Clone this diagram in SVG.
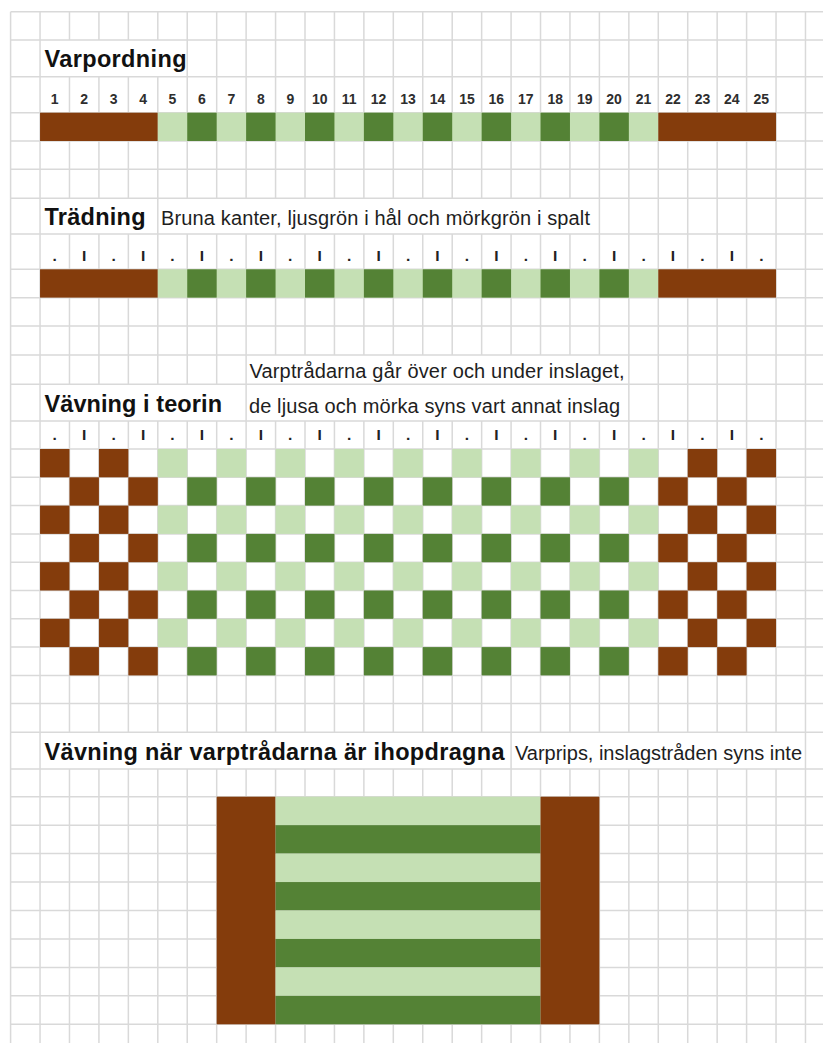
<svg xmlns="http://www.w3.org/2000/svg" xmlns:xlink="http://www.w3.org/1999/xlink" width="823" height="1043" viewBox="0 0 823 1043">
<style>
.grid{fill:none;stroke:#d9d9d9;stroke-width:1.5}
.br{fill:#843c0c}
.dk{fill:#548235}
.lt{fill:#c5e0b4}
.title{font-family:"Liberation Sans",Arial,sans-serif;font-weight:bold;font-size:23.5px;fill:#111}
.note{font-family:"Liberation Sans",Arial,sans-serif;font-size:20px;fill:#1e1e1e}
.num{font-family:"Liberation Sans",Arial,sans-serif;font-weight:bold;font-size:14px;fill:#2e2e2e;text-anchor:middle}
.dot{font-family:"Liberation Sans",Arial,sans-serif;font-weight:bold;font-size:15.5px;fill:#222;text-anchor:middle}
</style>
<defs>
<g id="strip">
<rect class="br" x="40.04" y="0" width="117.76" height="28.3"/>
<rect class="lt" x="157.8" y="0" width="500.48" height="28.3"/>
<rect class="dk" x="187.24" y="0" width="29.44" height="28.3"/>
<rect class="dk" x="246.12" y="0" width="29.44" height="28.3"/>
<rect class="dk" x="305" y="0" width="29.44" height="28.3"/>
<rect class="dk" x="363.88" y="0" width="29.44" height="28.3"/>
<rect class="dk" x="422.76" y="0" width="29.44" height="28.3"/>
<rect class="dk" x="481.64" y="0" width="29.44" height="28.3"/>
<rect class="dk" x="540.52" y="0" width="29.44" height="28.3"/>
<rect class="dk" x="599.4" y="0" width="29.44" height="28.3"/>
<rect class="br" x="658.28" y="0" width="117.76" height="28.3"/>
</g>
<g id="rowOdd">
<rect class="br" x="40.04" y="0" width="29.44" height="28.3"/>
<rect class="br" x="98.92" y="0" width="29.44" height="28.3"/>
<rect class="lt" x="157.8" y="0" width="29.44" height="28.3"/>
<rect class="lt" x="216.68" y="0" width="29.44" height="28.3"/>
<rect class="lt" x="275.56" y="0" width="29.44" height="28.3"/>
<rect class="lt" x="334.44" y="0" width="29.44" height="28.3"/>
<rect class="lt" x="393.32" y="0" width="29.44" height="28.3"/>
<rect class="lt" x="452.2" y="0" width="29.44" height="28.3"/>
<rect class="lt" x="511.08" y="0" width="29.44" height="28.3"/>
<rect class="lt" x="569.96" y="0" width="29.44" height="28.3"/>
<rect class="lt" x="628.84" y="0" width="29.44" height="28.3"/>
<rect class="br" x="687.72" y="0" width="29.44" height="28.3"/>
<rect class="br" x="746.6" y="0" width="29.44" height="28.3"/>
</g>
<g id="rowEven">
<rect class="br" x="69.48" y="0" width="29.44" height="28.3"/>
<rect class="br" x="128.36" y="0" width="29.44" height="28.3"/>
<rect class="dk" x="187.24" y="0" width="29.44" height="28.3"/>
<rect class="dk" x="246.12" y="0" width="29.44" height="28.3"/>
<rect class="dk" x="305" y="0" width="29.44" height="28.3"/>
<rect class="dk" x="363.88" y="0" width="29.44" height="28.3"/>
<rect class="dk" x="422.76" y="0" width="29.44" height="28.3"/>
<rect class="dk" x="481.64" y="0" width="29.44" height="28.3"/>
<rect class="dk" x="540.52" y="0" width="29.44" height="28.3"/>
<rect class="dk" x="599.4" y="0" width="29.44" height="28.3"/>
<rect class="br" x="658.28" y="0" width="29.44" height="28.3"/>
<rect class="br" x="717.16" y="0" width="29.44" height="28.3"/>
</g>
</defs>
<rect x="0" y="0" width="823" height="1043" fill="#ffffff"/>
<g id="gridlines" class="grid">
<path d="M10.6 11.7H823M10.6 40H823M10.6 76.7H823M10.6 112.7H823M10.6 141H823M10.6 169.3H823M10.6 198.3H823M10.6 234H823M10.6 269.3H823M10.6 297.7H823M10.6 326H823M10.6 355H823M10.6 384.3H823M10.6 421H823M10.6 449H823M10.6 477.3H823M10.6 505.6H823M10.6 533.9H823M10.6 562.2H823M10.6 590.5H823M10.6 618.8H823M10.6 647.1H823M10.6 675.4H823M10.6 703.5H823M10.6 732.3H823M10.6 769H823M10.6 796.7H823M10.6 825.15H823M10.6 853.6H823M10.6 882.05H823M10.6 910.5H823M10.6 938.95H823M10.6 967.4H823M10.6 995.85H823M10.6 1024.3H823"/>
<path d="M10.6 11.7V1043M40.04 11.7V1043
M69.48 11.7V40M69.48 76.7V198.3M69.48 234V384.3M69.48 421V732.3M69.48 769V1043
M98.92 11.7V40M98.92 76.7V198.3M98.92 234V384.3M98.92 421V732.3M98.92 769V1043
M128.36 11.7V40M128.36 76.7V198.3M128.36 234V384.3M128.36 421V732.3M128.36 769V1043
M157.8 11.7V40M157.8 76.7V384.3M157.8 421V732.3M157.8 769V1043
M187.24 11.7V198.3M187.24 234V384.3M187.24 421V732.3M187.24 769V1043
M216.68 11.7V198.3M216.68 234V384.3M216.68 421V732.3M216.68 769V1043
M246.12 11.7V198.3M246.12 234V732.3M246.12 769V1043
M275.56 11.7V198.3M275.56 234V355M275.56 421V732.3M275.56 769V1043
M305 11.7V198.3M305 234V355M305 421V732.3M305 769V1043
M334.44 11.7V198.3M334.44 234V355M334.44 421V732.3M334.44 769V1043
M363.88 11.7V198.3M363.88 234V355M363.88 421V732.3M363.88 769V1043
M393.32 11.7V198.3M393.32 234V355M393.32 421V732.3M393.32 769V1043
M422.76 11.7V198.3M422.76 234V355M422.76 421V732.3M422.76 769V1043
M452.2 11.7V198.3M452.2 234V355M452.2 421V732.3M452.2 769V1043
M481.64 11.7V198.3M481.64 234V355M481.64 421V732.3M481.64 769V1043
M511.08 11.7V198.3M511.08 234V355M511.08 421V1043
M540.52 11.7V198.3M540.52 234V355M540.52 421V732.3M540.52 769V1043
M569.96 11.7V198.3M569.96 234V355M569.96 421V732.3M569.96 769V1043
M599.4 11.7V355M599.4 421V732.3M599.4 769V1043
M628.84 11.7V732.3M628.84 769V1043
M658.28 11.7V732.3M658.28 769V1043
M687.72 11.7V732.3M687.72 769V1043
M717.16 11.7V732.3M717.16 769V1043
M746.6 11.7V732.3M746.6 769V1043
M776.04 11.7V732.3M776.04 769V1043
M805.48 11.7V1043"/>
</g>
<g id="varpordning">
<text class="title" x="44.5" y="66.7" textLength="142" lengthAdjust="spacing">Varpordning</text>
<text class="num" x="54.76" y="104">1</text>
<text class="num" x="84.2" y="104">2</text>
<text class="num" x="113.64" y="104">3</text>
<text class="num" x="143.08" y="104">4</text>
<text class="num" x="172.52" y="104">5</text>
<text class="num" x="201.96" y="104">6</text>
<text class="num" x="231.4" y="104">7</text>
<text class="num" x="260.84" y="104">8</text>
<text class="num" x="290.28" y="104">9</text>
<text class="num" x="319.72" y="104">10</text>
<text class="num" x="349.16" y="104">11</text>
<text class="num" x="378.6" y="104">12</text>
<text class="num" x="408.04" y="104">13</text>
<text class="num" x="437.48" y="104">14</text>
<text class="num" x="466.92" y="104">15</text>
<text class="num" x="496.36" y="104">16</text>
<text class="num" x="525.8" y="104">17</text>
<text class="num" x="555.24" y="104">18</text>
<text class="num" x="584.68" y="104">19</text>
<text class="num" x="614.12" y="104">20</text>
<text class="num" x="643.56" y="104">21</text>
<text class="num" x="673" y="104">22</text>
<text class="num" x="702.44" y="104">23</text>
<text class="num" x="731.88" y="104">24</text>
<text class="num" x="761.32" y="104">25</text>
<use xlink:href="#strip" href="#strip" y="112.7"/>
</g>
<g id="tradning">
<text class="title" x="44.5" y="224.5" textLength="101" lengthAdjust="spacing">Trädning</text>
<text class="note" x="161" y="224.5" textLength="429" lengthAdjust="spacing">Bruna kanter, ljusgrön i hål och mörkgrön i spalt</text>
<text class="dot" x="54.76" y="260.5">.</text>
<text class="dot" x="84.2" y="260.5">I</text>
<text class="dot" x="113.64" y="260.5">.</text>
<text class="dot" x="143.08" y="260.5">I</text>
<text class="dot" x="172.52" y="260.5">.</text>
<text class="dot" x="201.96" y="260.5">I</text>
<text class="dot" x="231.4" y="260.5">.</text>
<text class="dot" x="260.84" y="260.5">I</text>
<text class="dot" x="290.28" y="260.5">.</text>
<text class="dot" x="319.72" y="260.5">I</text>
<text class="dot" x="349.16" y="260.5">.</text>
<text class="dot" x="378.6" y="260.5">I</text>
<text class="dot" x="408.04" y="260.5">.</text>
<text class="dot" x="437.48" y="260.5">I</text>
<text class="dot" x="466.92" y="260.5">.</text>
<text class="dot" x="496.36" y="260.5">I</text>
<text class="dot" x="525.8" y="260.5">.</text>
<text class="dot" x="555.24" y="260.5">I</text>
<text class="dot" x="584.68" y="260.5">.</text>
<text class="dot" x="614.12" y="260.5">I</text>
<text class="dot" x="643.56" y="260.5">.</text>
<text class="dot" x="673" y="260.5">I</text>
<text class="dot" x="702.44" y="260.5">.</text>
<text class="dot" x="731.88" y="260.5">I</text>
<text class="dot" x="761.32" y="260.5">.</text>
<use xlink:href="#strip" href="#strip" y="269.3"/>
</g>
<g id="vavning-teori">
<text class="note" x="249.5" y="378.3" textLength="375" lengthAdjust="spacing">Varptrådarna går över och under inslaget,</text>
<text class="title" x="44.5" y="412" textLength="177.5" lengthAdjust="spacing">Vävning i teorin</text>
<text class="note" x="249" y="412.5" textLength="371" lengthAdjust="spacing">de ljusa och mörka syns vart annat inslag</text>
<text class="dot" x="54.76" y="440">.</text>
<text class="dot" x="84.2" y="440">I</text>
<text class="dot" x="113.64" y="440">.</text>
<text class="dot" x="143.08" y="440">I</text>
<text class="dot" x="172.52" y="440">.</text>
<text class="dot" x="201.96" y="440">I</text>
<text class="dot" x="231.4" y="440">.</text>
<text class="dot" x="260.84" y="440">I</text>
<text class="dot" x="290.28" y="440">.</text>
<text class="dot" x="319.72" y="440">I</text>
<text class="dot" x="349.16" y="440">.</text>
<text class="dot" x="378.6" y="440">I</text>
<text class="dot" x="408.04" y="440">.</text>
<text class="dot" x="437.48" y="440">I</text>
<text class="dot" x="466.92" y="440">.</text>
<text class="dot" x="496.36" y="440">I</text>
<text class="dot" x="525.8" y="440">.</text>
<text class="dot" x="555.24" y="440">I</text>
<text class="dot" x="584.68" y="440">.</text>
<text class="dot" x="614.12" y="440">I</text>
<text class="dot" x="643.56" y="440">.</text>
<text class="dot" x="673" y="440">I</text>
<text class="dot" x="702.44" y="440">.</text>
<text class="dot" x="731.88" y="440">I</text>
<text class="dot" x="761.32" y="440">.</text>
<use xlink:href="#rowOdd" href="#rowOdd" y="449"/>
<use xlink:href="#rowEven" href="#rowEven" y="477.3"/>
<use xlink:href="#rowOdd" href="#rowOdd" y="505.6"/>
<use xlink:href="#rowEven" href="#rowEven" y="533.9"/>
<use xlink:href="#rowOdd" href="#rowOdd" y="562.2"/>
<use xlink:href="#rowEven" href="#rowEven" y="590.5"/>
<use xlink:href="#rowOdd" href="#rowOdd" y="618.8"/>
<use xlink:href="#rowEven" href="#rowEven" y="647.1"/>
</g>
<g id="vavning-ihopdragna">
<text class="title" x="44.5" y="760" textLength="460" lengthAdjust="spacing">Vävning när varptrådarna är ihopdragna</text>
<text class="note" x="515" y="760" textLength="287" lengthAdjust="spacing">Varprips, inslagstråden syns inte</text>
<rect class="br" x="216.68" y="796.7" width="58.88" height="227.6"/>
<rect class="lt" x="275.56" y="796.7" width="264.96" height="28.45"/>
<rect class="dk" x="275.56" y="825.15" width="264.96" height="28.45"/>
<rect class="lt" x="275.56" y="853.6" width="264.96" height="28.45"/>
<rect class="dk" x="275.56" y="882.05" width="264.96" height="28.45"/>
<rect class="lt" x="275.56" y="910.5" width="264.96" height="28.45"/>
<rect class="dk" x="275.56" y="938.95" width="264.96" height="28.45"/>
<rect class="lt" x="275.56" y="967.4" width="264.96" height="28.45"/>
<rect class="dk" x="275.56" y="995.85" width="264.96" height="28.45"/>
<rect class="br" x="540.52" y="796.7" width="58.88" height="227.6"/>
</g>
</svg>
